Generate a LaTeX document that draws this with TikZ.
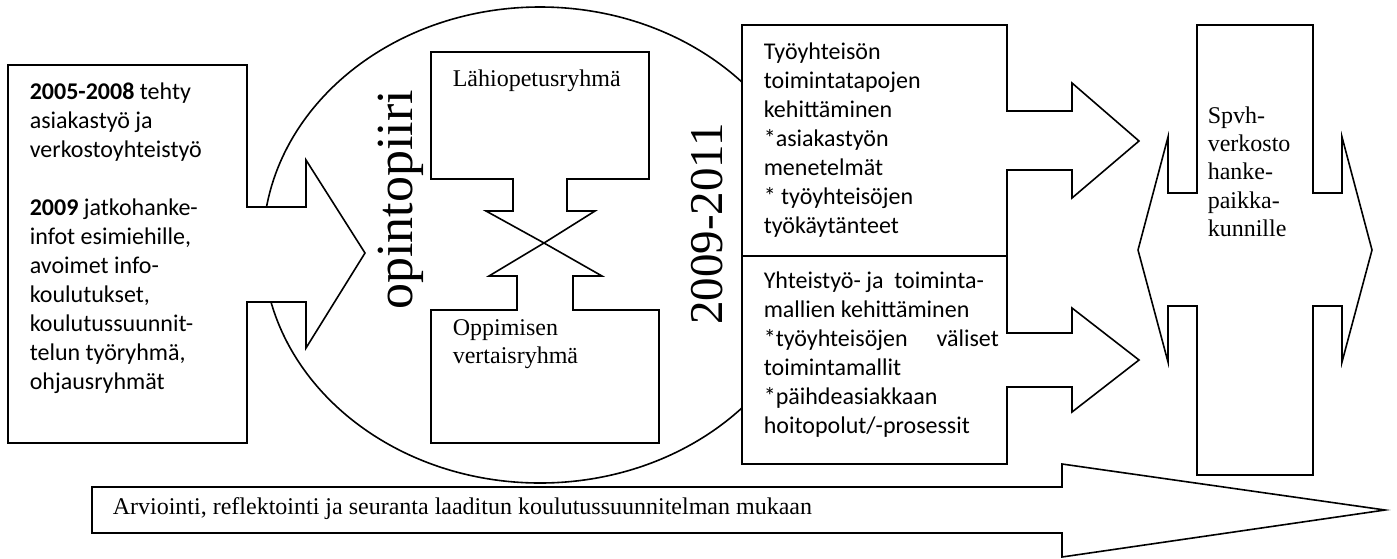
\documentclass[tikz,border=0pt]{standalone}
\usepackage{fontspec}
\setmainfont{Liberation Serif}
\newfontfamily\calibrifont{Carlito}

\tikzset{every picture/.style={line width=0.8pt}}
\tikzset{
  shp/.style={draw=black, fill=white, line join=miter},
  txt/.style={inner sep=0pt, anchor=base west, align=left},
}
% text blocks with their first baseline on the node anchor
\newcommand{\calibritext}[2]{\parbox[t]{#1}{\raggedright\calibrifont\fontsize{12}{14.5}\selectfont #2}}
\newcommand{\timestext}[2]{\parbox[t]{#1}{\raggedright\fontsize{12}{14.2}\selectfont #2}}

\begin{document}
\begin{tikzpicture}[x=0.5pt,y=0.5pt,yscale=-1,xscale=1]
\useasboundingbox (0,0) rectangle (1397,558);

%Shape: Ellipse [opintopiiri]
\draw [shp] (540,245) ellipse [x radius=277, y radius=238];

%Shape: Right Arrow Callout [left box]
\draw [shp] (8,65) -- (247,65) -- (247,207) -- (306,207) -- (306,160) -- (365,253) -- (306,348) -- (306,302) -- (247,302) -- (247,443) -- (8,443) -- cycle;

%Shape: Down Arrow Callout [upper group]
\draw [shp] (431,52) -- (649,52) -- (649,179) -- (567,179) -- (567,211) -- (595,211) -- (544,243) -- (486,211) -- (513,211) -- (513,179) -- (431,179) -- cycle;
%Shape: Up Arrow Callout [lower group]
\draw [shp] (431,310) -- (517,310) -- (517,276) -- (489,276) -- (544,243) -- (602,276) -- (573,276) -- (573,310) -- (659,310) -- (659,443) -- (431,443) -- cycle;

%Shape: Right Arrow Callout [upper right box]
\draw [shp] (742,25) -- (1007,25) -- (1007,111) -- (1072,111) -- (1072,83) -- (1139,141) -- (1072,198) -- (1072,170) -- (1007,170) -- (1007,256) -- (742,256) -- cycle;
%Shape: Right Arrow Callout [lower right box]
\draw [shp] (742,256) -- (1007,256) -- (1007,333) -- (1072,333) -- (1072,308) -- (1139,360) -- (1072,412) -- (1072,387) -- (1007,387) -- (1007,464) -- (742,464) -- cycle;

%Shape: Left-Right Arrow Callout [network]
\draw [shp] (1197,25) -- (1197,193) -- (1168,193) -- (1168,137) -- (1138,250) -- (1168,362) -- (1168,306) -- (1197,306) -- (1197,475) -- (1313,475) -- (1313,306) -- (1342,306) -- (1342,362) -- (1372,250) -- (1342,137) -- (1342,193) -- (1313,193) -- (1313,25) -- cycle;

%Shape: Right Arrow [evaluation]
\draw [shp] (92,487) -- (1062,487) -- (1062,464) -- (1385,510) -- (1062,557) -- (1062,533) -- (92,533) -- cycle;

% Text Node
\draw (29,99) node (pastTxt) [txt] {\calibritext{140pt}{\textbf{2005-2008} tehty\\
asiakastyö ja\\
verkostoyhteistyö\\[14.5pt]
\textbf{2009} jatkohanke-\\
infot esimiehille,\\
avoimet info-\\
koulutukset,\\
koulutussuunnit-\\
telun työryhmä,\\
ohjausryhmät}};
% Text Node
\draw (412,200) node (circleTxt) [inner sep=0pt, anchor=base, rotate=90] {\fontsize{26}{30}\selectfont opintopiiri};
% Text Node
\draw (722,224) node (yearsTxt) [inner sep=0pt, anchor=base, rotate=90] {\fontsize{23.5}{28}\selectfont 2009-2011};
% Text Node
\draw (452,86) node (closeTxt) [txt] {\fontsize{12}{14.2}\selectfont Lähiopetusryhmä};
% Text Node
\draw (452,335) node (peerTxt) [txt] {\timestext{100pt}{Oppimisen\\ vertaisryhmä}};
% Text Node
\draw (763,59) node (workTxt) [txt] {\calibritext{140pt}{Työyhteisön\\
toimintatapojen\\
kehittäminen\\
{*}asiakastyön\\
menetelmät\\
{*} työyhteisöjen\\
työkäytänteet}};
% Text Node
\draw (763,288) node (coopTxt) [txt] {\calibritext{140pt}{Yhteistyö- ja\ \ toiminta-\\
mallien kehittäminen\\
\makebox[117.5pt][s]{*työyhteisöjen\hfill väliset}\\
toimintamallit\\
{*}päihdeasiakkaan\\
hoitopolut/-prosessit}};
% Text Node
\draw (1207,123) node (netTxt) [txt] {\timestext{60pt}{Spvh-\\ verkosto\\ hanke-\\ paikka-\\ kunnille}};
% Text Node
\draw (112,514) node (evalTxt) [txt] {\fontsize{12}{14.2}\selectfont Arviointi, reflektointi ja seuranta laaditun koulutussuunnitelman mukaan};

\end{tikzpicture}
\end{document}
